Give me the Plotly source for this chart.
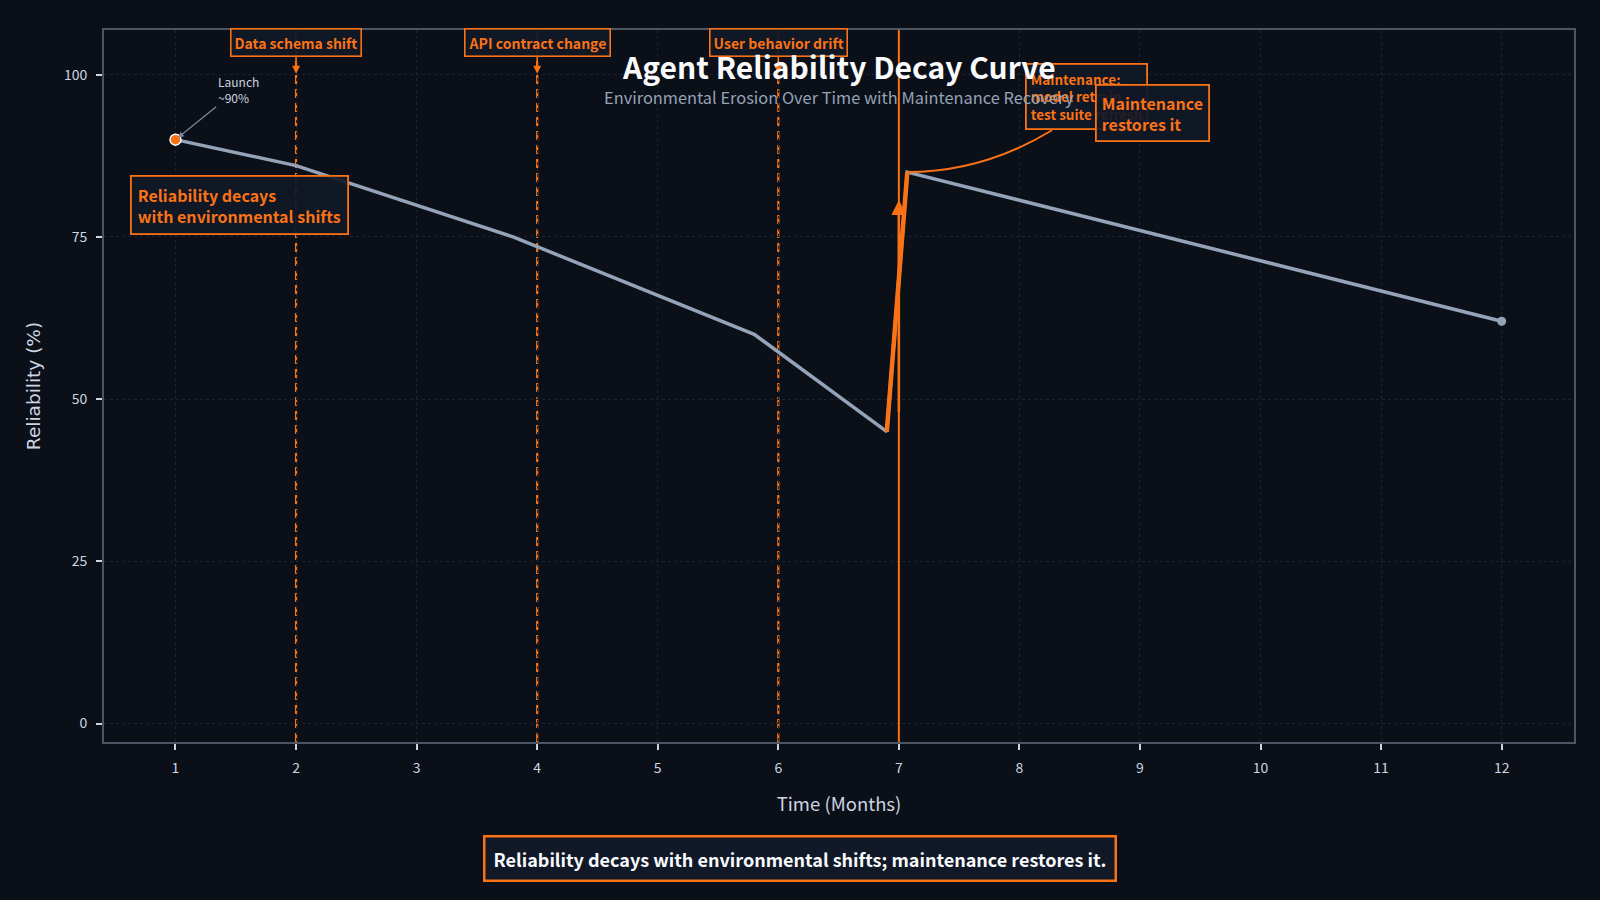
import plotly.graph_objects as go

# ---- data ----
months = [1, 2, 3.8, 5.8, 6.9, 7.07, 12]
reliability = [90, 86, 75, 60, 45, 85, 62]
shift_months = [2, 4, 6]
shift_labels = ["Data schema shift", "API contract change", "User behavior drift"]
maintenance_month = 7
x_ticks = list(range(1, 13))
y_ticks = [0, 25, 50, 75, 100]

ORANGE = "#f97316"
GRAY = "#94a3b8"
BG = "#0b0f17"
BOX_BG = "rgba(17,24,39,0.92)"
FONT = "Noto Sans CJK SC"

fig = go.Figure()

# main reliability line
fig.add_trace(go.Scatter(x=months, y=reliability, mode="lines",
                         line=dict(color=GRAY, width=3.5), hoverinfo="skip",
                         showlegend=False))
# highlighted recovery jump
fig.add_trace(go.Scatter(x=months[4:6], y=reliability[4:6], mode="lines",
                         line=dict(color=ORANGE, width=4.5), showlegend=False))
# launch point
fig.add_trace(go.Scatter(x=[months[0]], y=[reliability[0]], mode="markers",
                         marker=dict(color=ORANGE, size=11, line=dict(color="white", width=1.5)),
                         showlegend=False))
# end point
fig.add_trace(go.Scatter(x=[months[-1]], y=[reliability[-1]], mode="markers",
                         marker=dict(color=GRAY, size=9), showlegend=False))

# vertical event lines
for m in shift_months:
    fig.add_shape(type="line", x0=m, x1=m, xref="x", yref="paper", y0=0, y1=1,
                  line=dict(color=ORANGE, width=2.2, dash="9px,5px"), layer="below")
fig.add_shape(type="line", x0=maintenance_month, x1=maintenance_month, xref="x",
              yref="paper", y0=0, y1=1, line=dict(color=ORANGE, width=2), layer="above")

# curved connector from peak to maintenance box
px, py = months[5], reliability[5]
bx, by = 8.27, 91.45
fig.add_shape(type="path", xref="x", yref="y",
              path=f"M {px},{py} Q {px + 0.63},{py} {bx},{by}",
              line=dict(color=ORANGE, width=2))

annotations = []
for m, lab in zip(shift_months, shift_labels):
    annotations.append(dict(x=m, y=100, xref="x", yref="y", text=lab, showarrow=True,
                            ax=0, ay=-32, arrowhead=2, arrowsize=1, arrowwidth=1.6,
                            arrowcolor=ORANGE, standoff=1,
                            font=dict(family=FONT, size=14, color=ORANGE, weight="bold"),
                            bgcolor=BOX_BG, bordercolor=ORANGE, borderwidth=1.6, borderpad=3))

# launch annotation
annotations.append(dict(x=months[0], y=reliability[0], xref="x", yref="y",
                        ax=1.52, ay=97.8, axref="x", ayref="y",
                        text="Launch<br>~90%", align="left", showarrow=True,
                        arrowhead=2, arrowsize=1, arrowwidth=1.2, arrowcolor="#7c8799",
                        standoff=3,
                        font=dict(family=FONT, size=12, color="#cbd5e1")))

# decay box
annotations.append(dict(x=1.53, y=79.9, xref="x", yref="y", showarrow=False,
                        text="Reliability decays<br>with environmental shifts", align="left",
                        font=dict(family=FONT, size=16, color=ORANGE, weight="bold"),
                        bgcolor=BOX_BG, bordercolor=ORANGE, borderwidth=1.8, borderpad=6))

# recovery arrow along maintenance line
annotations.append(dict(x=maintenance_month, y=80.7, xref="x", yref="y",
                        ax=maintenance_month, ay=47.8, axref="x", ayref="y",
                        text="", showarrow=True, arrowhead=2, arrowsize=1.2,
                        arrowwidth=2.5, arrowcolor=ORANGE))

# maintenance box
annotations.append(dict(x=8.56, y=96.6, xref="x", yref="y", showarrow=False,
                        text="Maintenance:<br>model retrain,<br>test suite refresh", align="left",
                        font=dict(family=FONT, size=13.5, color=ORANGE, weight="bold"),
                        bgcolor=BOX_BG, bordercolor=ORANGE, borderwidth=1.8, borderpad=4))
annotations.append(dict(x=9.10, y=94.1, xref="x", yref="y", showarrow=False,
                        text="Maintenance<br>restores it", align="left",
                        font=dict(family=FONT, size=16, color=ORANGE, weight="bold"),
                        bgcolor=BOX_BG, bordercolor=ORANGE, borderwidth=1.8, borderpad=5))

# title & subtitle (drawn on top)
annotations.append(dict(x=0.5, y=0.9495, xref="paper", yref="paper", showarrow=False,
                        text="Agent Reliability Decay Curve", yanchor="middle",
                        font=dict(family=FONT, size=30, color="#f8fafc", weight="bold")))
annotations.append(dict(x=0.5, y=0.906, xref="paper", yref="paper", showarrow=False,
                        text="Environmental Erosion Over Time with Maintenance Recovery",
                        yanchor="middle", font=dict(family=FONT, size=16.4, color=GRAY)))

# bottom caption
annotations.append(dict(x=0.4733, y=-0.164, xref="paper", yref="paper", showarrow=False,
                        text="Reliability decays with environmental shifts; maintenance restores it.",
                        yanchor="middle",
                        font=dict(family=FONT, size=18, color="#f8fafc", weight="bold"),
                        bgcolor="#111827", bordercolor=ORANGE, borderwidth=2.5, borderpad=8))

fig.update_layout(
    width=1600, height=900,
    margin=dict(l=104, r=26, t=30, b=158),
    paper_bgcolor=BG, plot_bgcolor=BG,
    font=dict(family=FONT, color="#cbd5e1"),
    annotations=annotations,
    showlegend=False,
)
axis_common = dict(showline=True, mirror=True, linecolor="#4b5563", linewidth=2,
                   showgrid=True, gridcolor="#1c2330", griddash="dot", gridwidth=1,
                   zeroline=False, ticks="outside", ticklen=6, tickwidth=1.5,
                   tickcolor="#cbd5e1", tickfont=dict(family=FONT, size=14, color="#cbd5e1"))
fig.update_xaxes(range=[0.407, 12.6], tickvals=x_ticks, ticklabelstandoff=6,
                 title=dict(text="Time (Months)", standoff=22,
                            font=dict(family=FONT, size=18.5, color="#cbd5e1")),
                 **axis_common)
fig.update_yaxes(range=[-2.85, 106.9], tickvals=y_ticks, ticklabelstandoff=6,
                 title=dict(text="Reliability (%)", standoff=18,
                            font=dict(family="DejaVu Sans", size=18.5, color="#cbd5e1")),
                 **axis_common)

fig.write_html("out.html")
